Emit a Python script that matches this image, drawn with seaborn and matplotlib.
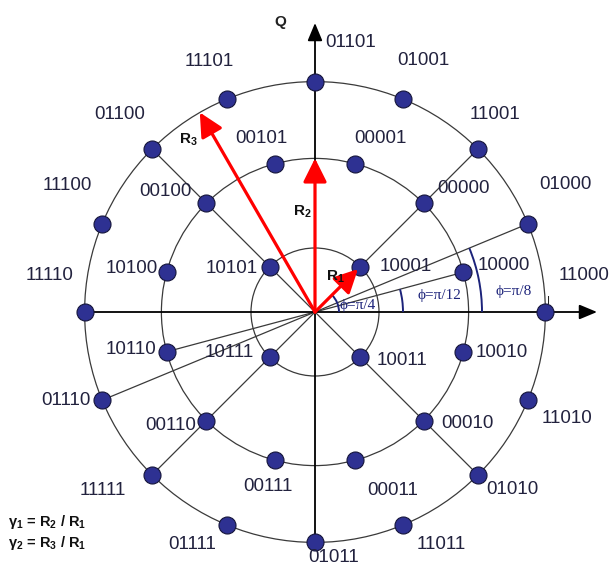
import numpy as np
import pandas as pd
import seaborn as sns
import matplotlib.pyplot as plt
from matplotlib.patches import Circle, Arc

# ring radii, normalised to R1
R1, R2, R3 = 1.0, 2.4, 3.6

inner_angles = [45, 135, 225, 315]
inner_bits = ['10001', '10101', '10111', '10011']

middle_angles = [15, 45, 75, 105, 135, 165, 195, 225, 255, 285, 315, 345]
middle_bits = ['10000', '00000', '00001', '00101', '00100', '10100',
               '10110', '00110', '00111', '00011', '00010', '10010']

outer_angles = [0, 22.5, 45, 67.5, 90, 112.5, 135, 157.5,
                180, 202.5, 225, 247.5, 270, 292.5, 315, 337.5]
outer_bits = ['11000', '01000', '11001', '01001', '01101', '11101', '01100', '11100',
              '11110', '01110', '11111', '01111', '01011', '11011', '01010', '11010']

# label placement (pixels, relative to the point)
inner_off = [(45, 0), (-38, -2), (-40, 5), (42, -3)]
middle_off = [(40, 7), (40, 15), (26, 25), (-14, 25), (-41, 12), (-35, 4),
              (-36, 2), (-36, -5), (-7, -26), (38, -30), (44, -3), (38, -1)]
outer_off = [(39, 37), (38, 39), (17, 35), (20, 39), (36, 39), (-18, 38),
             (-32, 35), (-35, 38), (-35, 37), (-36, 0), (-49, -16), (-35, -20),
             (19, -15), (38, -20), (34, -15), (39, -18)]

rows = []
for ring, rad, angs, bits, offs in [('inner', R1, inner_angles, inner_bits, inner_off),
                                    ('middle', R2, middle_angles, middle_bits, middle_off),
                                    ('outer', R3, outer_angles, outer_bits, outer_off)]:
    for a, b, o in zip(angs, bits, offs):
        t = np.deg2rad(a)
        rows.append({'ring': ring, 'angle': a, 'bits': b, 'r': rad,
                     'x': rad * np.cos(t), 'y': rad * np.sin(t), 'dx': o[0], 'dy': o[1]})
df = pd.DataFrame(rows)

sns.set_style('white')
plt.rcParams['font.family'] = ['Liberation Sans', 'DejaVu Sans']

S = 64.0  # pixels per unit
fig = plt.figure(figsize=(6.13, 5.69), dpi=100)
ax = fig.add_axes([0, 0, 1, 1])
ax.set_xlim(-315 / S, 298 / S)
ax.set_ylim(-257 / S, 312 / S)
ax.set_aspect('equal')
ax.axis('off')


def px(x, y):
    return ((x - 315) / S, (312 - y) / S)


gray = '#3a3a3a'
for rad in (R1, R2, R3):
    ax.add_patch(Circle((0, 0), rad, fill=False, ec=gray, lw=0.9, zorder=1))

# radial guide lines
for a in inner_angles:
    t = np.deg2rad(a)
    ax.plot([0, R3 * np.cos(t)], [0, R3 * np.sin(t)], color=gray, lw=0.9, zorder=1)
for a, rad in [(22.5, R3), (15, R2), (195, R2), (202.5, R3)]:
    t = np.deg2rad(a)
    ax.plot([0, rad * np.cos(t)], [0, rad * np.sin(t)], color=gray, lw=0.9, zorder=1)

# I / Q axes
axis_arrow = dict(arrowstyle='-|>,head_length=0.6,head_width=0.25', color='black',
                  lw=1.3, mutation_scale=18, shrinkA=0, shrinkB=0)
ax.annotate('', xy=(282 / S, 0), xytext=(-R3, 0), arrowprops=axis_arrow, zorder=2)
ax.annotate('', xy=(0, 289 / S), xytext=(0, -R3), arrowprops=axis_arrow, zorder=2)
ax.text(*px(280, 22), 'Q', fontsize=11, fontweight='bold', color='#222222',
        ha='center', va='center')
ax.text(*px(549, 301), 'I', fontsize=8, color='#222222', ha='center', va='center')

# angle arcs
navy = '#1c237a'
for rad_px, a2 in [(24, 45), (88, 15), (167, 22.5)]:
    ax.add_patch(Arc((0, 0), 2 * rad_px / S, 2 * rad_px / S, theta1=0, theta2=a2,
                     color=navy, lw=1.4, zorder=2))
for (x, y), s in [((358, 305), 'ϕ=π/4'), ((439, 295), 'ϕ=π/12'), ((514, 292), 'ϕ=π/8')]:
    ax.text(*px(x, y), s, fontsize=11, family=['Liberation Serif', 'DejaVu Serif'],
            color=navy, ha='center', va='center', zorder=3)

# constellation points
sns.scatterplot(data=df, x='x', y='y', s=150, color='#2e3192', edgecolor='#15153a',
                linewidth=0.8, zorder=5, ax=ax, legend=False)
ax.set_xlabel('')
ax.set_ylabel('')

for _, r in df.iterrows():
    ax.annotate(r['bits'], (r['x'], r['y']), xytext=(r['dx'], r['dy']),
                textcoords='offset pixels', ha='center', va='center',
                fontsize=13.5, color='#22223e', zorder=6)

# radius vectors
red_arrow = dict(arrowstyle='-|>,head_length=0.72,head_width=0.36', color='#ff0000',
                 lw=2.3, mutation_scale=20, shrinkA=0, shrinkB=0)
for rad, a in [(0.95 * R1, 45), (R2, 90), (R3, 120)]:
    t = np.deg2rad(a)
    ax.annotate('', xy=(rad * np.cos(t), rad * np.sin(t)), xytext=(0, 0),
                arrowprops=red_arrow, zorder=7)

for (x, y), s in [((335, 277), r'R$_\mathregular{1}$'), ((302, 212), r'R$_\mathregular{2}$'),
                  ((188, 140), r'R$_\mathregular{3}$')]:
    ax.text(*px(x, y), s, fontsize=11, fontweight='bold', color='#111111',
            ha='center', va='center', zorder=8)

ax.text(*px(8, 522), r'γ$_\mathregular{1}$ = R$_\mathregular{2}$ / R$_\mathregular{1}$',
        fontsize=10.5, fontweight='bold', color='#111111', ha='left', va='center')
ax.text(*px(8, 543), r'γ$_\mathregular{2}$ = R$_\mathregular{3}$ / R$_\mathregular{1}$',
        fontsize=10.5, fontweight='bold', color='#111111', ha='left', va='center')

fig.savefig('out.png', dpi=100)
